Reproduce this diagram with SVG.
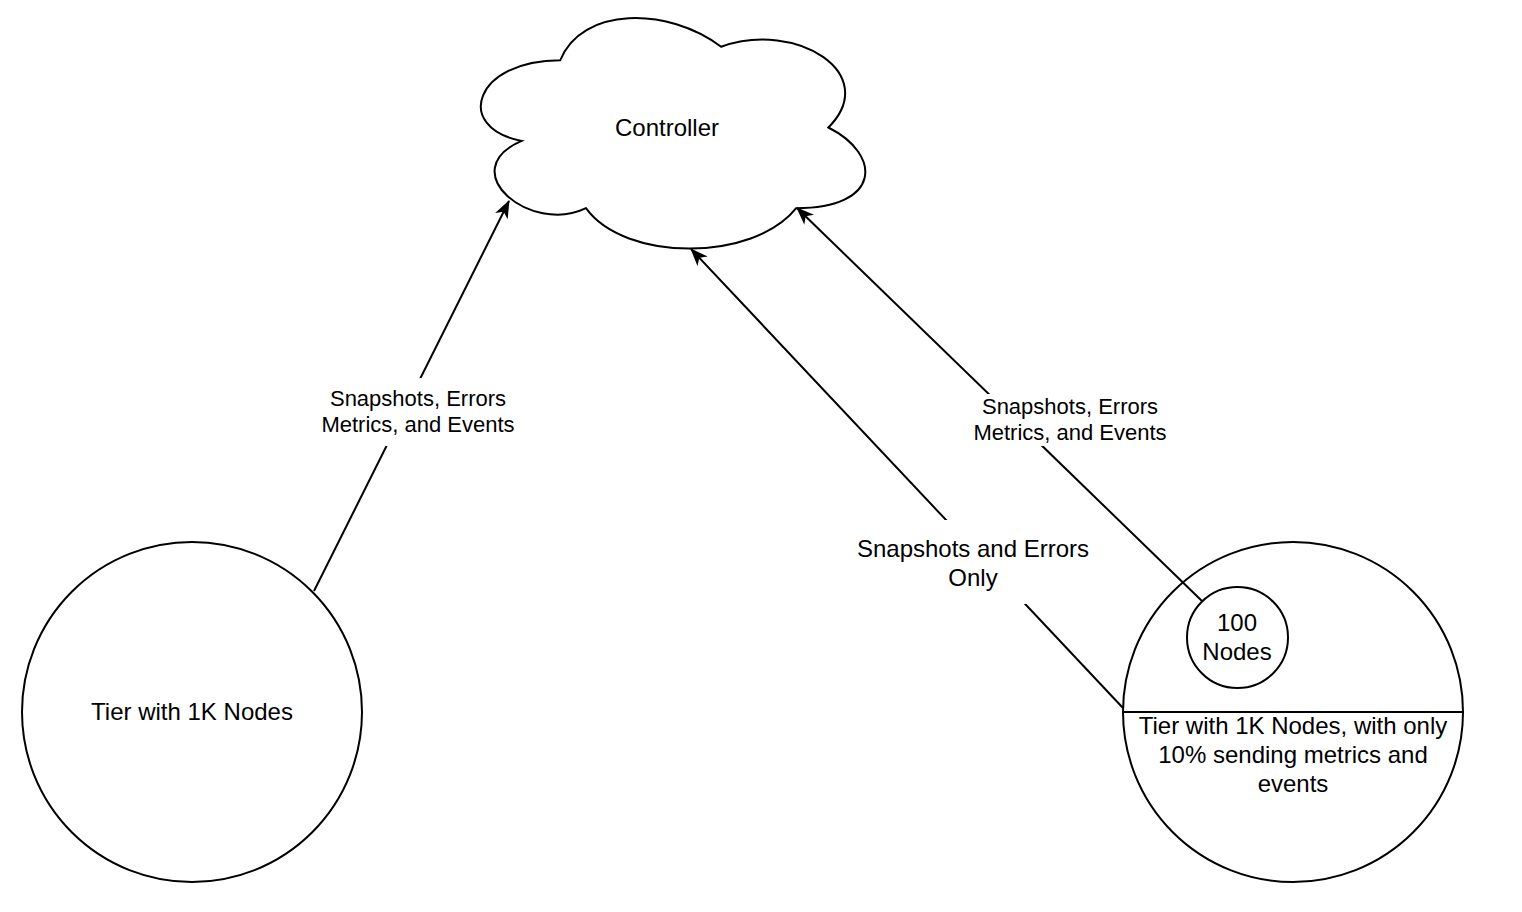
<svg xmlns="http://www.w3.org/2000/svg" width="1522" height="912" viewBox="0 0 1522 912">
<defs>
<style>
.s{fill:#fff;stroke:#000;stroke-width:2}
.e{fill:none;stroke:#000;stroke-width:2}
text{font-family:"Liberation Sans",Arial,Helvetica,sans-serif;fill:#000;text-anchor:middle}
.lbl{font-size:22px}
.big{font-size:24px}
.bg{fill:#fff;stroke:none}
</style>
<marker id="a" viewBox="0 0 18 14" refX="17" refY="7" markerWidth="18" markerHeight="14" orient="auto" markerUnits="userSpaceOnUse">
<path d="M0,0 L18,7 L0,14 L5,7 z" fill="#000"/>
</marker>
</defs>
<rect width="1522" height="912" fill="#fff"/>
<g id="controller">
<path class="s" d="M560.25,60.25 C474.45,60.25 453,127.5 521.64,140.95 C453,170.54 530.22,235.1 585.99,208.2 C624.6,262 753.3,262 796.2,208.2 C882,208.2 882,154.4 828.38,127.5 C882,73.7 796.2,19.9 721.13,46.8 C667.5,6.45 581.7,6.45 560.25,60.25 Z"/>
<text x="667" y="136" class="big">Controller</text>
</g>
<g id="tier-left">
<circle class="s" cx="192" cy="712" r="170"/>
<text x="192" y="720" class="big">Tier with 1K Nodes</text>
</g>
<g id="tier-right">
<circle class="s" cx="1293" cy="712" r="170"/>
<line class="e" x1="1123" y1="712" x2="1463" y2="712"/>
<text class="big"><tspan x="1293" y="734">Tier with 1K Nodes, with only</tspan><tspan x="1293" y="763">10% sending metrics and</tspan><tspan x="1293" y="792">events</tspan></text>
</g>
<g id="connectors">
<line class="e" x1="314" y1="591" x2="509" y2="201" marker-end="url(#a)"/>
<line class="e" x1="1123" y1="708" x2="691" y2="249" marker-end="url(#a)"/>
<line class="e" x1="1202" y1="601" x2="797" y2="208" marker-end="url(#a)"/>
</g>
<g id="nodes-100">
<circle class="s" cx="1237.5" cy="637.5" r="50.5"/>
<text class="big"><tspan x="1237" y="631">100</tspan><tspan x="1237" y="660">Nodes</tspan></text>
</g>
<g id="labels">
<rect class="bg" x="320" y="378" width="197" height="68"/>
<text class="lbl"><tspan x="418" y="406">Snapshots, Errors</tspan><tspan x="418" y="432">Metrics, and Events</tspan></text>
<rect class="bg" x="855" y="520" width="236" height="84"/>
<text class="big"><tspan x="973" y="557">Snapshots and Errors</tspan><tspan x="973" y="586">Only</tspan></text>
<rect class="bg" x="972" y="394" width="196" height="52"/>
<text class="lbl"><tspan x="1070" y="414">Snapshots, Errors</tspan><tspan x="1070" y="440">Metrics, and Events</tspan></text>
</g>
</svg>
